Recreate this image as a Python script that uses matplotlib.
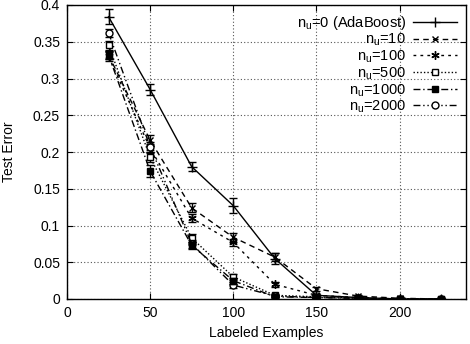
import matplotlib
matplotlib.use("Agg")
import matplotlib.pyplot as plt
from matplotlib.lines import Line2D

plt.rcParams['font.family'] = ['Liberation Sans', 'DejaVu Sans']
plt.rcParams['mathtext.fontset'] = 'custom'
plt.rcParams['mathtext.rm'] = 'Liberation Sans'

x = [25, 50, 75, 100, 125, 150, 175, 200, 225]

labels = ["n$_\\mathregular{u}$=0 (AdaBoost)", "n$_\\mathregular{u}$=10", "n$_\\mathregular{u}$=100",
          "n$_\\mathregular{u}$=500", "n$_\\mathregular{u}$=1000", "n$_\\mathregular{u}$=2000"]

y_ada = [0.384, 0.285, 0.180, 0.127, 0.055, 0.005, 0.002, 0.000, 0.000]
e_ada = [0.010, 0.007, 0.006, 0.010, 0.007, 0.002, 0.001, 0.000, 0.000]
y_10 = [0.332, 0.216, 0.124, 0.084, 0.057, 0.014, 0.004, 0.001, 0.000]
e_10 = [0.006, 0.007, 0.006, 0.006, 0.005, 0.003, 0.001, 0.000, 0.000]
y_100 = [0.330, 0.205, 0.110, 0.077, 0.020, 0.005, 0.002, 0.000, 0.000]
e_100 = [0.006, 0.006, 0.005, 0.005, 0.003, 0.002, 0.001, 0.000, 0.000]
y_500 = [0.345, 0.193, 0.083, 0.030, 0.005, 0.003, 0.001, 0.000, 0.000]
e_500 = [0.006, 0.007, 0.005, 0.004, 0.002, 0.001, 0.000, 0.000, 0.000]
y_1000 = [0.332, 0.174, 0.073, 0.025, 0.003, 0.002, 0.001, 0.000, 0.000]
e_1000 = [0.006, 0.008, 0.005, 0.004, 0.001, 0.001, 0.000, 0.000, 0.000]
y_2000 = [0.362, 0.207, 0.075, 0.019, 0.004, 0.002, 0.001, 0.000, 0.000]
e_2000 = [0.006, 0.007, 0.005, 0.004, 0.001, 0.001, 0.000, 0.000, 0.000]

series = [y_ada, y_10, y_100, y_500, y_1000, y_2000]
errs = [e_ada, e_10, e_100, e_500, e_1000, e_2000]
zorders = [3, 3, 3, 3, 5, 4]
styles = [
    dict(linestyle='-', marker='+', ms=7, mfc='black'),
    dict(linestyle=(0, (4, 3)), marker='x', ms=5, mfc='black'),
    dict(linestyle=(0, (2, 3)), marker=(6, 2, 0), ms=6, mfc='black'),
    dict(linestyle=(0, (1, 1.5)), marker='s', ms=5, mfc='white'),
    dict(linestyle=(0, (5, 2, 1, 2)), marker='s', ms=5, mfc='black'),
    dict(linestyle=(0, (5, 2, 1, 2, 1, 2)), marker='o', ms=5, mfc='white'),
]

fig = plt.figure(figsize=(4.7, 3.44), dpi=100)
ax = fig.add_axes([67/470, 1-299/344, (466-67)/470, (299-5)/344])

handles = []
for y, e, lab, st, z in zip(series, errs, labels, styles, zorders):
    ax.errorbar(x, y, yerr=e, color='black', lw=1.0, elinewidth=1.0,
                capsize=3, capthick=1.0, mec='black', mew=1.0, zorder=z, **st)
    handles.append(Line2D([], [], color='black', lw=1.0, mec='black', mew=1.0, label=lab, **st))

ax.set_xlim(0, 240)
ax.set_ylim(0, 0.4)
ax.set_xticks([0, 50, 100, 150, 200])
ax.set_yticks([0, 0.05, 0.1, 0.15, 0.2, 0.25, 0.3, 0.35, 0.4])
ax.set_yticklabels(['0', '0.05', '0.1', '0.15', '0.2', '0.25', '0.3', '0.35', '0.4'])
ax.grid(True, linestyle=(0, (1, 2)), color='#555555', lw=0.8)
ax.tick_params(direction='in', top=True, right=True, labelsize=10, length=4, pad=5)
for sp in ax.spines.values():
    sp.set_linewidth(1.0)
ax.set_xlabel('Labeled Examples', fontsize=10)
ax.set_ylabel('Test Error', fontsize=10)
ax.yaxis.set_label_coords(-0.128, 0.5)

leg = ax.legend(handles=handles, loc='upper right', markerfirst=False, frameon=False, fontsize=10.5,
                handlelength=3.0, labelspacing=0.0, borderaxespad=0.2,
                handletextpad=0.5)
for vp in leg._legend_handle_box.get_children():
    vp.align = 'right'
fig.savefig('out.png', dpi=100)
